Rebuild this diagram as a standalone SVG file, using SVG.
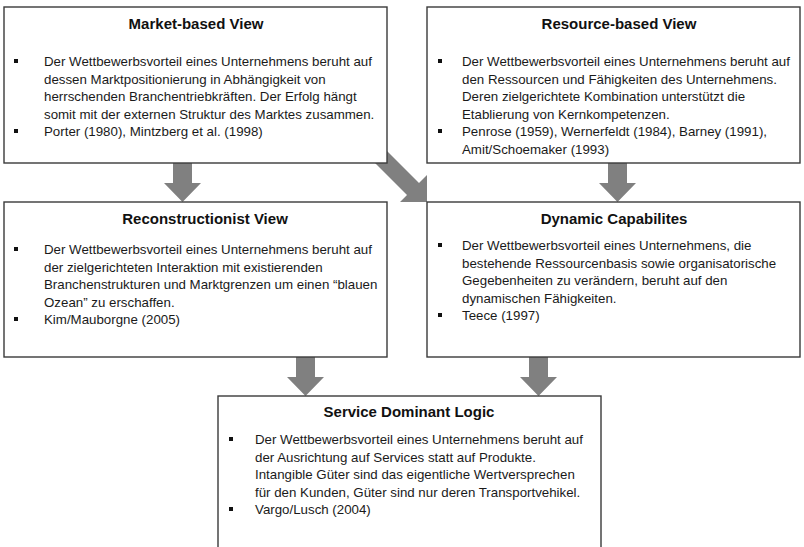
<svg xmlns="http://www.w3.org/2000/svg" width="804" height="547" viewBox="0 0 804 547">
<style>
.box{fill:#ffffff;stroke:#3a3a3a;stroke-width:1.4}
.arr{fill:#808080;stroke:none}
.t{font-family:"Liberation Sans",Arial,sans-serif;font-size:15px;font-weight:bold;fill:#111;text-anchor:middle}
.b{font-family:"Liberation Sans",Arial,sans-serif;font-size:13.3px;fill:#1a1a1a}
.bl{fill:#111}
</style>
<rect width="804" height="547" fill="#ffffff"/>
<g id="connectors">
<polygon class="arr" points="173,160 192,160 192,183 201,183 182.5,202 164,183 173,183"/>
<polygon class="arr" points="608,160 627,160 627,183 636,183 617.5,202 599,183 608,183"/>
<polygon class="arr" points="296,354 315,354 315,377 324,377 305.5,396 287,377 296,377"/>
<polygon class="arr" points="529,354 548,354 548,377 557,377 538.5,396 520,377 529,377"/>
<polygon class="arr" points="378,142 419,183 427,175 427,202 400,202 407,195 366,154"/>
</g>
<g id="market-based">
<rect class="box" x="4" y="7" width="383" height="156"/>
<text class="t" x="196" y="29">Market-based View</text>
<rect class="bl" x="14" y="59" width="4" height="4"/>
<text class="b" x="44" y="66">Der Wettbewerbsvorteil eines Unternehmens beruht auf</text>
<text class="b" x="44" y="83.5">dessen Marktpositionierung in Abhängigkeit von</text>
<text class="b" x="44" y="101">herrschenden Branchentriebkräften. Der Erfolg hängt</text>
<text class="b" x="44" y="118.5">somit mit der externen Struktur des Marktes zusammen.</text>
<rect class="bl" x="14" y="129" width="4" height="4"/>
<text class="b" x="44" y="136">Porter (1980), Mintzberg et al. (1998)</text>
</g>
<g id="resource-based">
<rect class="box" x="427" y="7" width="373" height="156"/>
<text class="t" x="619" y="29">Resource-based View</text>
<rect class="bl" x="438" y="59" width="4" height="4"/>
<text class="b" x="462" y="66">Der Wettbewerbsvorteil eines Unternehmens beruht auf</text>
<text class="b" x="462" y="83.5">den Ressourcen und Fähigkeiten des Unternehmens.</text>
<text class="b" x="462" y="101">Deren zielgerichtete Kombination unterstützt die</text>
<text class="b" x="462" y="118.5">Etablierung von Kernkompetenzen.</text>
<rect class="bl" x="438" y="129" width="4" height="4"/>
<text class="b" x="462" y="136">Penrose (1959), Wernerfeldt (1984), Barney (1991),</text>
<text class="b" x="462" y="153.5">Amit/Schoemaker (1993)</text>
</g>
<g id="reconstructionist">
<rect class="box" x="4" y="202" width="383" height="155"/>
<text class="t" x="205" y="224">Reconstructionist View</text>
<rect class="bl" x="14" y="247" width="4" height="4"/>
<text class="b" x="44" y="254">Der Wettbewerbsvorteil eines Unternehmens beruht auf</text>
<text class="b" x="44" y="271.5">der zielgerichteten Interaktion mit existierenden</text>
<text class="b" x="44" y="289">Branchenstrukturen und Marktgrenzen um einen “blauen</text>
<text class="b" x="44" y="306.5">Ozean” zu erschaffen.</text>
<rect class="bl" x="14" y="317" width="4" height="4"/>
<text class="b" x="44" y="324">Kim/Mauborgne (2005)</text>
</g>
<g id="dynamic-capabilities">
<rect class="box" x="427" y="202" width="373" height="155"/>
<text class="t" x="614" y="224">Dynamic Capabilites</text>
<rect class="bl" x="438" y="243" width="4" height="4"/>
<text class="b" x="462" y="250">Der Wettbewerbsvorteil eines Unternehmens, die</text>
<text class="b" x="462" y="267.5">bestehende Ressourcenbasis sowie organisatorische</text>
<text class="b" x="462" y="285">Gegebenheiten zu verändern, beruht auf den</text>
<text class="b" x="462" y="302.5">dynamischen Fähigkeiten.</text>
<rect class="bl" x="438" y="313" width="4" height="4"/>
<text class="b" x="462" y="320">Teece (1997)</text>
</g>
<g id="service-dominant">
<rect class="box" x="218" y="396" width="383" height="170"/>
<text class="t" x="409" y="417">Service Dominant Logic</text>
<rect class="bl" x="229" y="437" width="4" height="4"/>
<text class="b" x="255" y="444">Der Wettbewerbsvorteil eines Unternehmens beruht auf</text>
<text class="b" x="255" y="461.5">der Ausrichtung auf Services statt auf Produkte.</text>
<text class="b" x="255" y="479">Intangible Güter sind das eigentliche Wertversprechen</text>
<text class="b" x="255" y="496.5">für den Kunden, Güter sind nur deren Transportvehikel.</text>
<rect class="bl" x="229" y="507" width="4" height="4"/>
<text class="b" x="255" y="514">Vargo/Lusch (2004)</text>
</g>
</svg>
